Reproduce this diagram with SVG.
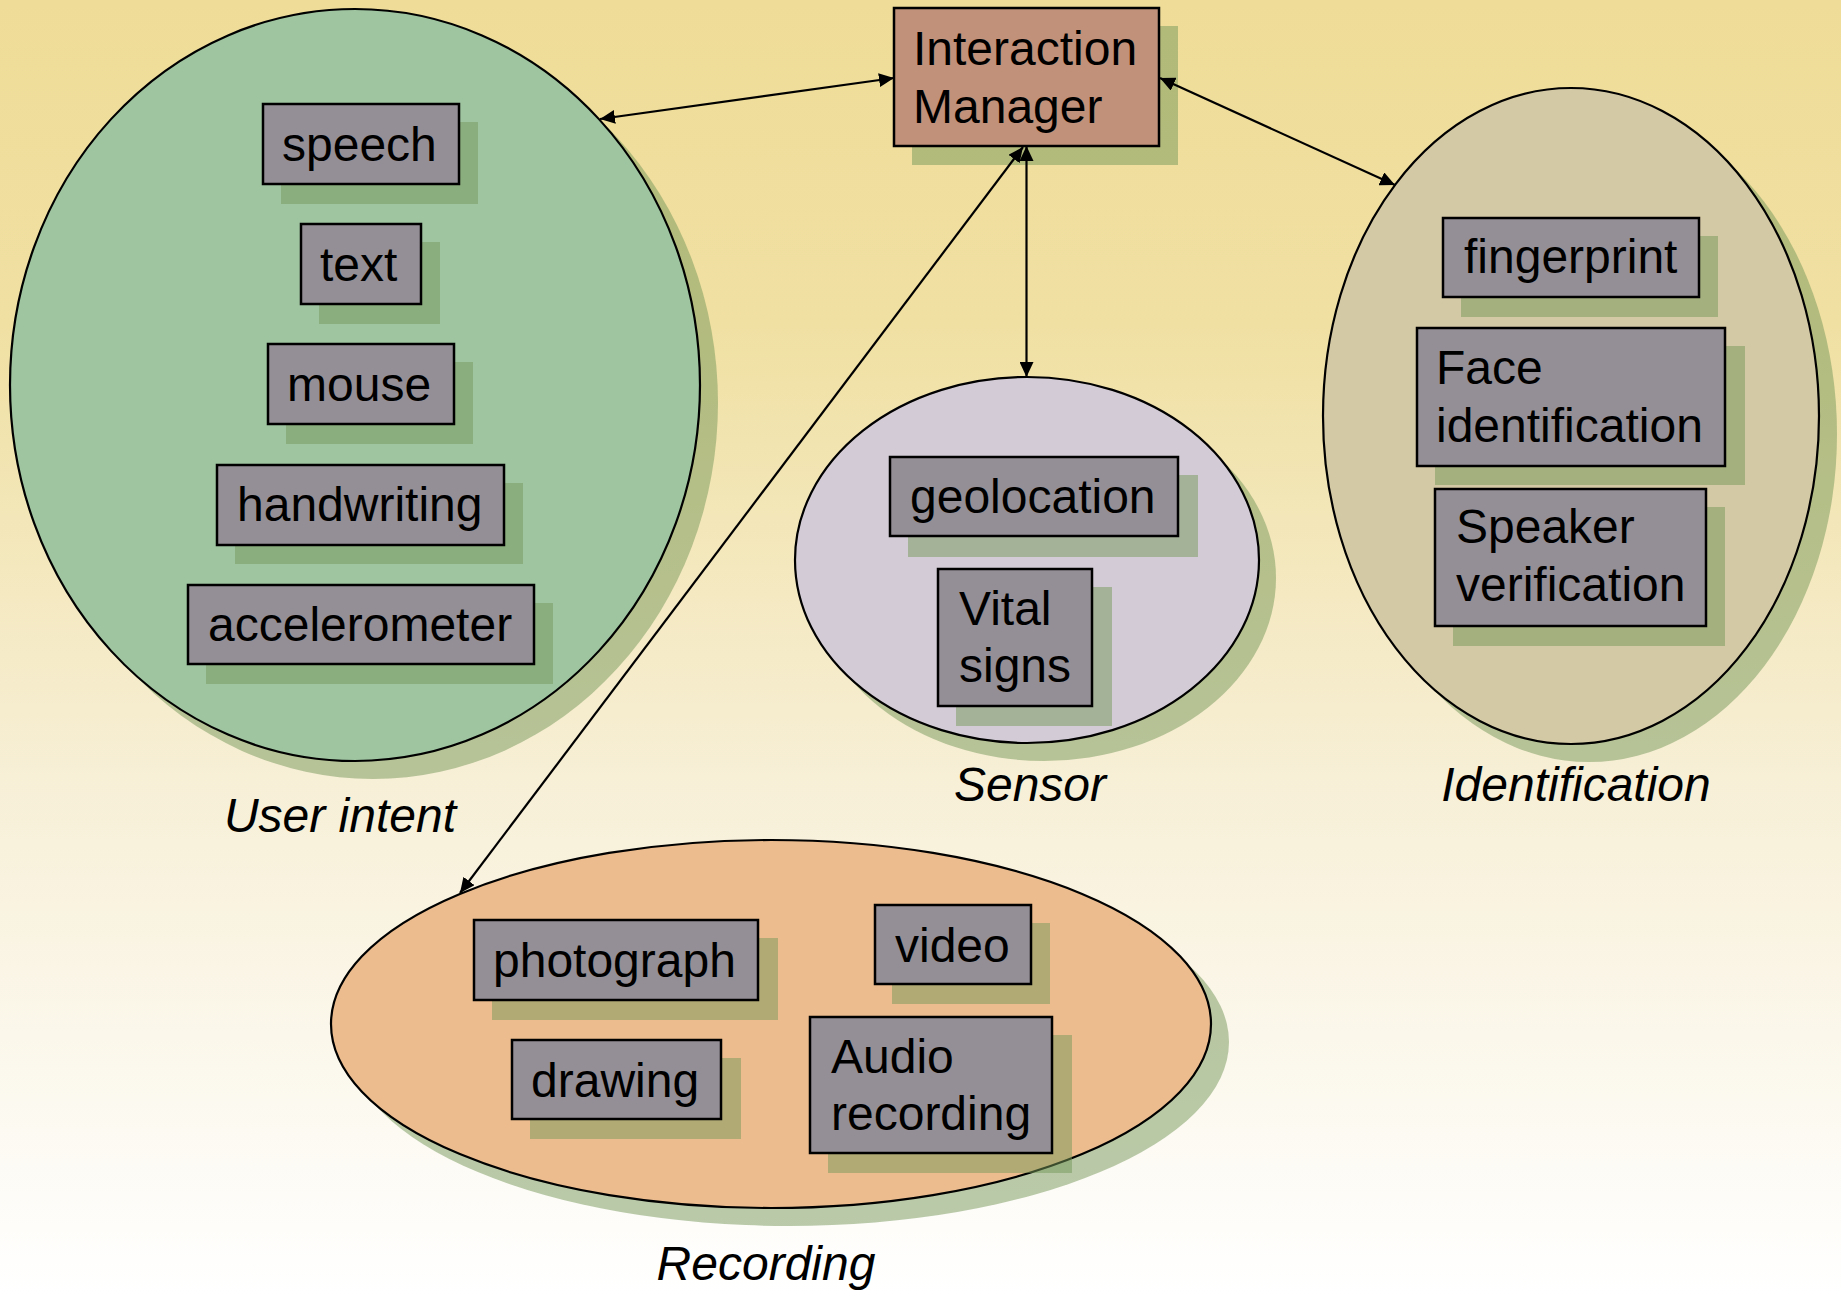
<svg xmlns="http://www.w3.org/2000/svg" width="1841" height="1293" viewBox="0 0 1841 1293">
<style>
.t{font-family:"Liberation Sans",Arial,sans-serif;font-size:48px;fill:#000}
.lbl{font-family:"Liberation Sans",Arial,sans-serif;font-size:48px;font-style:italic;fill:#000;text-anchor:middle}
.box{fill:#948F96;stroke:#000;stroke-width:2.5}
.sh{fill:rgb(118,152,90);fill-opacity:0.5}
.ell{stroke:#000;stroke-width:2.2}
.con{stroke:#000;stroke-width:2.2;fill:none;marker-start:url(#ah);marker-end:url(#ah)}
</style>
<defs>
<linearGradient id="bg" x1="0" y1="0" x2="0" y2="1">
<stop offset="0" stop-color="#EFDC98"/>
<stop offset="0.25" stop-color="#F0E0A2"/>
<stop offset="0.6" stop-color="#F7EFD6"/>
<stop offset="1" stop-color="#FFFFFF"/>
</linearGradient>
<marker id="ah" markerUnits="userSpaceOnUse" markerWidth="16" markerHeight="14" refX="15" refY="7" orient="auto-start-reverse" viewBox="0 0 16 14">
<path d="M0,0 L15,7 L0,14 z" fill="#000"/>
</marker>
</defs>
<rect width="1841" height="1293" fill="url(#bg)"/>

<g id="user-intent">
<ellipse class="sh" cx="373" cy="403" rx="345" ry="376"/>
<ellipse class="ell" cx="355" cy="385" rx="345" ry="376" fill="#9EC4A0"/>
<text class="lbl" x="340" y="832">User intent</text>
</g>
<g id="sensor">
<ellipse class="sh" cx="1044" cy="578" rx="232" ry="183"/>
<ellipse class="ell" cx="1027" cy="560" rx="232" ry="183" fill="#D3CCD7"/>
<text class="lbl" x="1030" y="801">Sensor</text>
</g>
<g id="identification">
<ellipse class="sh" cx="1589" cy="434" rx="248" ry="328"/>
<ellipse class="ell" cx="1571" cy="416" rx="248" ry="328" fill="#D4C9A5"/>
<text class="lbl" x="1576" y="801">Identification</text>
</g>
<g id="recording">
<ellipse class="sh" cx="789" cy="1042" rx="440" ry="184"/>
<ellipse class="ell" cx="771" cy="1024" rx="440" ry="184" fill="#ECBC8E"/>
<text class="lbl" x="766" y="1280">Recording</text>
</g>

<g id="interaction-manager">
<rect class="sh" x="912" y="26" width="266" height="139"/>
<rect x="894" y="8" width="265" height="138" fill="#C1917A" stroke="#000" stroke-width="2.5"/>
<text class="t" x="913" y="65">Interaction</text>
<text class="t" x="913" y="123">Manager</text>
</g>

<g id="speech">
<rect class="sh" x="281" y="122" width="197" height="82"/>
<rect class="box" x="263" y="104" width="196" height="80"/>
<text class="t" x="282" y="161">speech</text>
</g>
<g id="text">
<rect class="sh" x="319" y="242" width="121" height="82"/>
<rect class="box" x="301" y="224" width="120" height="80"/>
<text class="t" x="320" y="281">text</text>
</g>
<g id="mouse">
<rect class="sh" x="286" y="362" width="187" height="82"/>
<rect class="box" x="268" y="344" width="186" height="80"/>
<text class="t" x="287" y="401">mouse</text>
</g>
<g id="handwriting">
<rect class="sh" x="235" y="483" width="288" height="81"/>
<rect class="box" x="217" y="465" width="287" height="80"/>
<text class="t" x="237" y="521">handwriting</text>
</g>
<g id="accelerometer">
<rect class="sh" x="206" y="603" width="347" height="81"/>
<rect class="box" x="188" y="585" width="346" height="79"/>
<text class="t" x="208" y="641">accelerometer</text>
</g>

<g id="geolocation">
<rect class="sh" x="908" y="475" width="290" height="82"/>
<rect class="box" x="890" y="457" width="288" height="79"/>
<text class="t" x="910" y="513">geolocation</text>
</g>
<g id="vital-signs">
<rect class="sh" x="956" y="587" width="156" height="139"/>
<rect class="box" x="938" y="569" width="154" height="137"/>
<text class="t" x="959" y="625">Vital</text>
<text class="t" x="959" y="682">signs</text>
</g>

<g id="fingerprint">
<rect class="sh" x="1461" y="236" width="257" height="81"/>
<rect class="box" x="1443" y="218" width="256" height="79"/>
<text class="t" x="1464" y="273">fingerprint</text>
</g>
<g id="face-identification">
<rect class="sh" x="1435" y="346" width="310" height="139"/>
<rect class="box" x="1417" y="328" width="308" height="138"/>
<text class="t" x="1436" y="384">Face</text>
<text class="t" x="1436" y="442">identification</text>
</g>
<g id="speaker-verification">
<rect class="sh" x="1453" y="507" width="272" height="139"/>
<rect class="box" x="1435" y="489" width="271" height="137"/>
<text class="t" x="1456" y="543">Speaker</text>
<text class="t" x="1456" y="601">verification</text>
</g>

<g id="photograph">
<rect class="sh" x="492" y="938" width="286" height="82"/>
<rect class="box" x="474" y="920" width="284" height="80"/>
<text class="t" x="493" y="977">photograph</text>
</g>
<g id="video">
<rect class="sh" x="892" y="923" width="158" height="81"/>
<rect class="box" x="875" y="905" width="156" height="79"/>
<text class="t" x="895" y="962">video</text>
</g>
<g id="drawing">
<rect class="sh" x="530" y="1058" width="211" height="81"/>
<rect class="box" x="512" y="1040" width="209" height="79"/>
<text class="t" x="531" y="1097">drawing</text>
</g>
<g id="audio-recording">
<rect class="sh" x="828" y="1035" width="244" height="138"/>
<rect class="box" x="810" y="1017" width="242" height="136"/>
<text class="t" x="831" y="1073">Audio</text>
<text class="t" x="831" y="1130">recording</text>
</g>

<g id="connectors">
<line class="con" x1="894" y1="78" x2="600" y2="119"/>
<line class="con" x1="1160" y1="78" x2="1395" y2="185"/>
<line class="con" x1="1026.5" y1="146" x2="1026.5" y2="377"/>
<line class="con" x1="1023" y1="147" x2="460" y2="893"/>
</g>
</svg>
